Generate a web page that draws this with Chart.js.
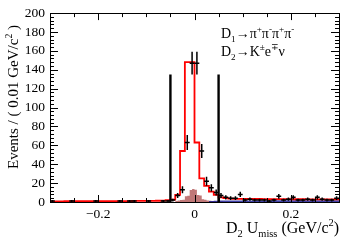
<!DOCTYPE html>
<html><head><meta charset="utf-8">
<script src="https://cdn.jsdelivr.net/npm/chart.js@4/dist/chart.umd.min.js"></script>
<style>html,body{margin:0;padding:0;background:#fff;}#wrap{width:357px;height:242px;position:relative;}</style>
</head><body><div id="wrap"><canvas id="c"></canvas></div>
<script>
// ---- data ----
const dataX = [-0.295,-0.255,-0.205,-0.155,-0.135,-0.125,-0.095,-0.065,-0.055,-0.045,-0.035,-0.025,-0.015,-0.005,0.005,0.015,0.025,0.035,0.045,0.055,0.065,0.075,0.085,0.095,0.105,0.115,0.125,0.135,0.145,0.155,0.165,0.175,0.185,0.195,0.205,0.215,0.225,0.235,0.245,0.255,0.265,0.275,0.285,0.295];
const dataY = [1,1,1,1,1,1,1,1,1,2,7,13,63,147,147,54,22,15,10,7,5,4,4,8,2,3,2,2,2,1,2,6,2,3,5,2,2,3,2,5,3,2,2,4];
const dataBinHalf = 0.005;

const fitStart = -0.3, fitWidth = 0.01;
const fitY = [0.7,0.7,0.7,0.7,0.8,0.8,0.8,0.8,0.8,0.9,0.9,0.9,0.9,0.9,1.0,1.0,1.0,1.0,1.1,1.1,1.1,1.2,1.2,1.3,
              1.5,2,2.5,7.5,54,148,148,63,25,17,11,7.5,5,4,3.5,3.3,
              3.3,3.3,3.2,3.2,3.2,3.1,3.1,3.1,3.0,3.0,3.0,2.9,2.9,2.9,2.8,2.8,2.8,2.7,2.7,2.7];

const peakBkgStart = -0.04, peakBkgWidth = 0.005;
const peakBkgY = [1,1,1.5,2,2.5,6,6.5,12.7,13.7,13,7.4,7,3,2.5,1.5,1.2,1,1,0.6,0.4];

const combBkgStart = 0.03, combBkgWidth = 0.01;
const combBkgY = [0.5,1.0,1.4,1.5,1.6,1.6,1.6,1.6,1.7,1.7,1.7,1.7,1.7,1.7,1.8,1.8,1.8,1.8,1.8,1.8,1.8,1.8,1.8,1.8,1.8,1.8,1.8];

const cutX = [-0.05, 0.05];
const cutTop = 135;

const xTickValues = [-0.2, 0, 0.2];
const xTickText = ['\u22120.2', '0', '0.2'];
const yMin = 0, yMax = 200, yStep = 20;

// ---- helpers ----
function stepPoints(start, width, vals){
  const pts = vals.map((v,i)=>({x:start+i*width, y:v}));
  pts.push({x:start+vals.length*width, y:vals[vals.length-1]});
  return pts;
}
const SERIF = '"Liberation Serif","DejaVu Serif",serif';
function richWidth(ctx, segs, size){
  let w=0;
  for(const [t,m] of segs){ const s = m==='n'?size:size*0.65; ctx.font = s+'px '+SERIF; w+=ctx.measureText(t).width; }
  return w;
}
function drawRich(ctx, segs, x, y, size, align){
  let w = richWidth(ctx, segs, size);
  let cx = align==='right'? x-w : align==='center'? x-w/2 : x;
  ctx.textBaseline='alphabetic'; ctx.textAlign='left';
  for(const [t,m] of segs){
    const s = m==='n'?size:size*0.65;
    ctx.font = s+'px '+SERIF;
    const dy = m==='sub'? size*0.28 : m==='sup'? -size*0.42 : 0;
    ctx.fillText(t, cx, y+dy);
    cx += ctx.measureText(t).width;
  }
}

const decor = {
  id:'decor',
  afterDatasetsDraw(chart){
    const ctx = chart.ctx, xs = chart.scales.x, ys = chart.scales.y;
    ctx.save();
    ctx.strokeStyle = '#000'; ctx.lineWidth = 1.5;
    const ds = chart.data.datasets.find(d=>d.label==='data');
    ds.data.forEach(p=>{
      const px = xs.getPixelForValue(p.x), py = ys.getPixelForValue(p.y);
      const e = Math.sqrt(p.y);
      ctx.beginPath();
      ctx.moveTo(xs.getPixelForValue(p.x-dataBinHalf), py);
      ctx.lineTo(xs.getPixelForValue(p.x+dataBinHalf), py);
      ctx.moveTo(px, ys.getPixelForValue(Math.max(0,p.y-e)));
      ctx.lineTo(px, ys.getPixelForValue(p.y+e));
      ctx.stroke();
    });
    ctx.restore();
  },
  afterDraw(chart){
    const ctx = chart.ctx, xs = chart.scales.x, ys = chart.scales.y, a = chart.chartArea;
    ctx.save();
    ctx.strokeStyle='#000'; ctx.lineWidth=1;
    ctx.strokeRect(Math.round(a.left)+0.5, Math.round(a.top)+0.5, Math.round(a.right-a.left), Math.round(a.bottom-a.top));
    ctx.beginPath();
    for(let v=yMin; v<=yMax+1e-9; v+=4){
      const py = Math.round(ys.getPixelForValue(v))+0.5;
      const L = (v % yStep === 0) ? 8 : 4;
      ctx.moveTo(a.left, py); ctx.lineTo(a.left+L, py);
      ctx.moveTo(a.right, py); ctx.lineTo(a.right-L, py);
    }
    for(let k=-6; k<=6; k++){
      const v = k*0.05;
      const px = Math.round(xs.getPixelForValue(v))+0.5;
      const L = (k % 4 === 0) ? 7 : 4;
      ctx.moveTo(px, a.bottom); ctx.lineTo(px, a.bottom-L);
      ctx.moveTo(px, a.top); ctx.lineTo(px, a.top+L);
    }
    ctx.stroke();
    ctx.fillStyle='#000';
    drawRich(ctx, [['D','n'],['1','sub'],['\u2192\u03c0','n'],['+','sup'],['\u03c0','n'],['-','sup'],['\u03c0','n'],['+','sup'],['\u03c0','n'],['-','sup']], 221, 38, 14, 'left');
    drawRich(ctx, [['D','n'],['2','sub'],['\u2192K','n'],['\u00b1','sup'],['e','n'],['\u2213','sup'],['\u03bd','n']], 221, 56, 14, 'left');
    drawRich(ctx, [['D','n'],['2','sub'],[' U','n'],['miss','sub'],[' (GeV/c','n'],['2','sup'],[')','n']], 339, 233, 16, 'right');
    ctx.save();
    ctx.translate(18, 97); ctx.rotate(-Math.PI/2);
    drawRich(ctx, [['Events / ( 0.01 GeV/c','n'],['2','sup'],[' )','n']], 0, 0, 15, 'center');
    ctx.restore();
    ctx.restore();
  }
};

const cfg = {
  type:'line',
  data:{datasets:[
    {label:'cutL', data:[{x:cutX[0],y:0},{x:cutX[0],y:cutTop}], borderColor:'#000', borderWidth:2.4, pointRadius:0, fill:false},
    {label:'cutR', data:[{x:cutX[1],y:0},{x:cutX[1],y:cutTop}], borderColor:'#000', borderWidth:2.4, pointRadius:0, fill:false},
    {label:'data', data:dataX.map((x,i)=>({x, y:dataY[i]})), showLine:false, pointRadius:0, borderColor:'#000'},
    {label:'fit', data:stepPoints(fitStart, fitWidth, fitY), stepped:'after', borderColor:'#ff0000', borderWidth:1.8, pointRadius:0, fill:false},
    {label:'comb', data:stepPoints(combBkgStart, combBkgWidth, combBkgY), stepped:'after', borderWidth:0, borderColor:'rgba(0,0,0,0)', backgroundColor:'rgba(30,30,150,0.85)', pointRadius:0, fill:'origin'},
    {label:'peak', data:stepPoints(peakBkgStart, peakBkgWidth, peakBkgY), stepped:'after', borderWidth:0, borderColor:'rgba(0,0,0,0)', backgroundColor:'rgba(150,30,30,0.6)', pointRadius:0, fill:'origin'}
  ]},
  options:{
    responsive:false, animation:false, devicePixelRatio:1,
    layout:{padding:{left:0, right:18, top:13, bottom:0}},
    plugins:{legend:{display:false}, tooltip:{enabled:false}},
    scales:{
      x:{type:'linear', min:-0.3, max:0.3,
         grid:{display:false, drawTicks:false}, border:{display:false},
         afterBuildTicks:s=>{ s.ticks = xTickValues.map(v=>({value:v})); },
         afterFit:s=>{ s.height = 40; },
         ticks:{autoSkip:false, maxRotation:0, padding:4, color:'#000', font:{family:SERIF, size:13.5},
                callback:(v)=>{ const i = xTickValues.findIndex(t=>Math.abs(t-v)<1e-9); return i>=0?xTickText[i]:''; }}},
      y:{type:'linear', min:yMin, max:yMax,
         grid:{display:false, drawTicks:false}, border:{display:false},
         afterFit:s=>{ s.width = 50; },
         ticks:{stepSize:yStep, autoSkip:false, padding:5, color:'#000', font:{family:SERIF, size:13.5}}}
    }
  },
  plugins:[decor]
};
const cv = document.getElementById('c');
cv.width = 357; cv.height = 242;
new Chart(cv, cfg);
</script></body></html>
